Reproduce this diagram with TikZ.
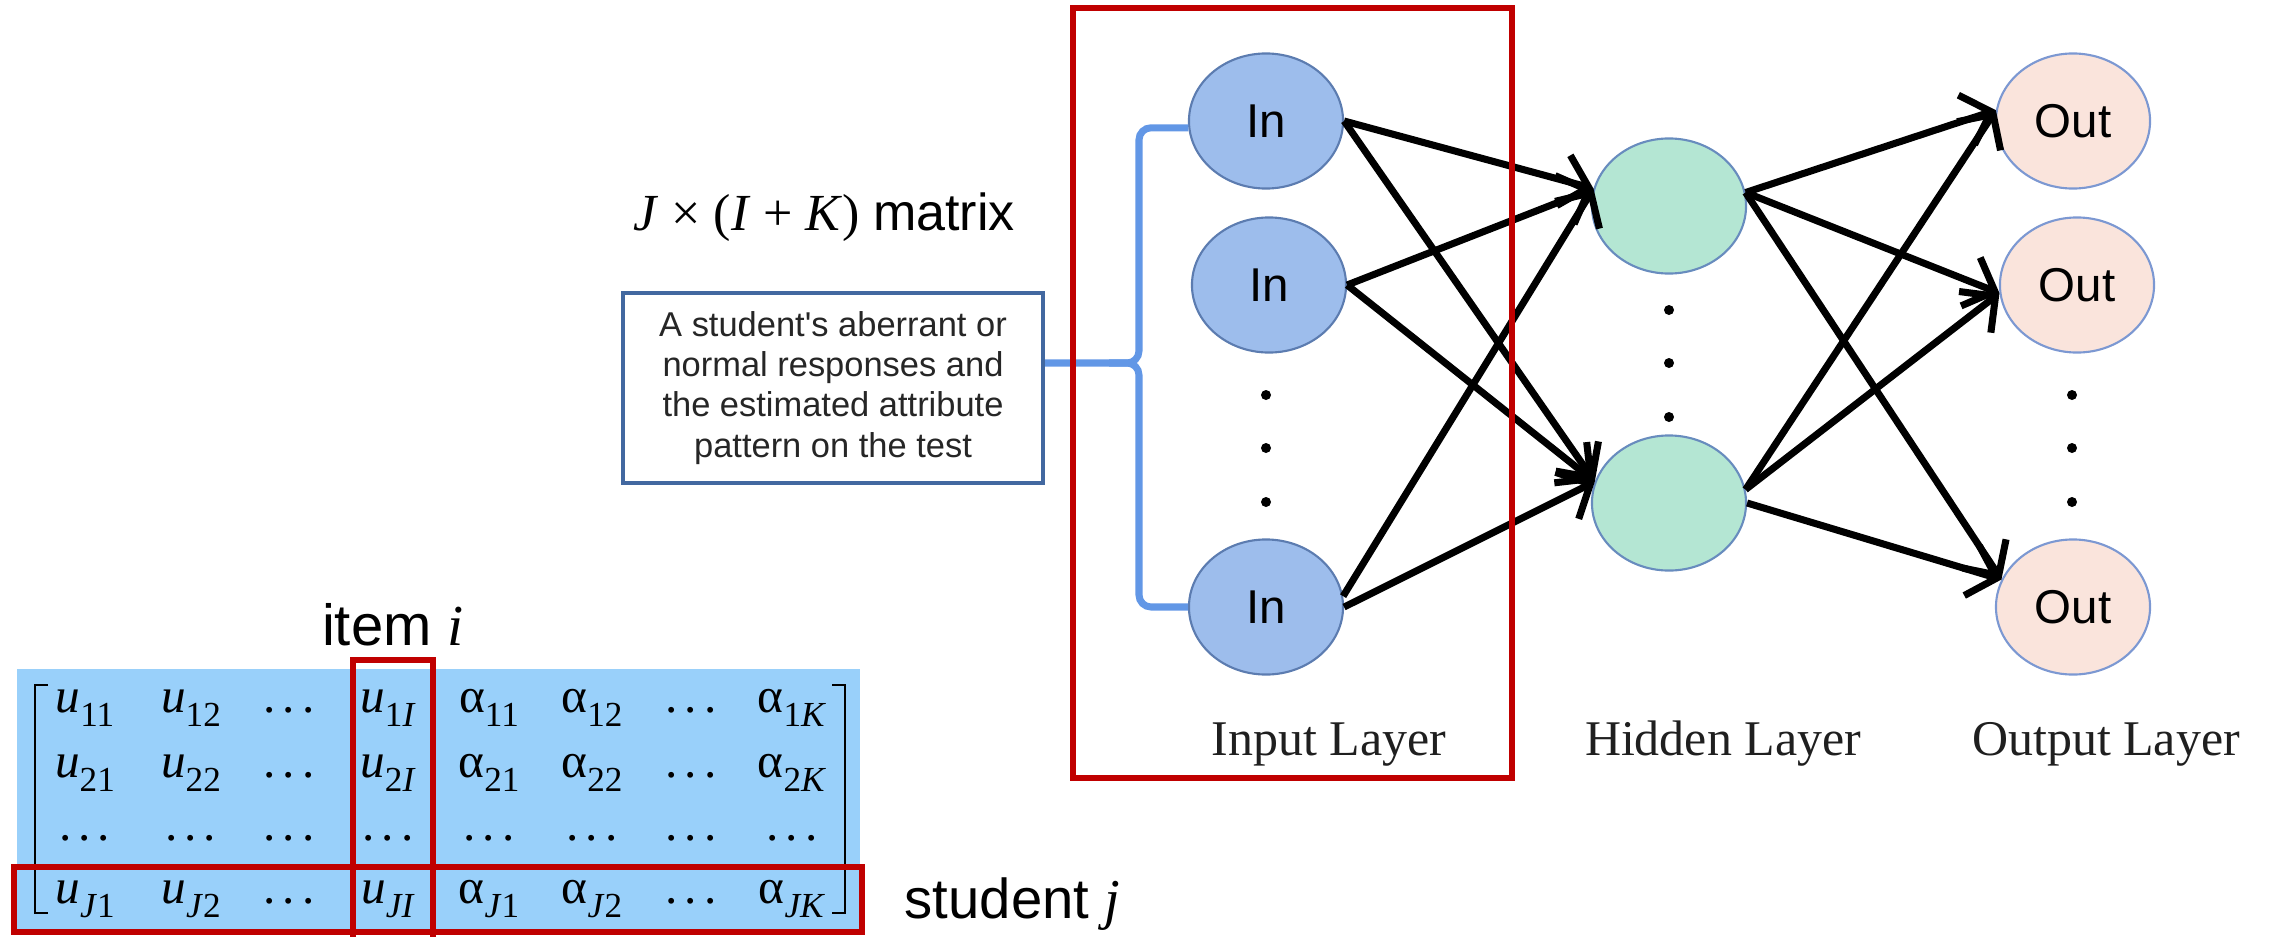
\documentclass[tikz,border=0pt]{standalone}
\usepackage{fontspec}
\setmainfont{Liberation Serif}
\newfontfamily\arialfont{Liberation Sans}
\usetikzlibrary{shapes.geometric,arrows.meta}

\definecolor{matblue}{RGB}{153,208,250}
\definecolor{redbox}{RGB}{192,0,0}
\definecolor{infill}{RGB}{157,189,236}
\definecolor{inborder}{RGB}{92,124,176}
\definecolor{hidfill}{RGB}{180,230,211}
\definecolor{hidborder}{RGB}{104,140,190}
\definecolor{outfill}{RGB}{250,228,220}
\definecolor{outborder}{RGB}{124,152,210}
\definecolor{braceblue}{RGB}{98,151,230}
\definecolor{boxborder}{RGB}{66,104,160}

% matrix entry helpers
\newcommand\subs[1]{\raisebox{-0.3em}{\fontsize{10pt}{11pt}\selectfont #1}}
\newcommand\uent[1]{\textit{u}\subs{#1}}
\newcommand\aent[1]{α\subs{#1}}
\newcommand\dts{.\kern0.14em.\kern0.14em.}

\begin{document}
\begin{tikzpicture}[x=0.01cm,y=-0.01cm,
  ent/.style={anchor=base, inner sep=0pt, font=\fontsize{14pt}{15pt}\selectfont},
  neuron/.style={ellipse, line width=0.6pt, minimum width=1.54cm, minimum height=1.35cm,
                 inner sep=0pt, font=\arialfont\fontsize{13.5pt}{14pt}\selectfont},
  innode/.style={neuron, draw=inborder, fill=infill},
  hidnode/.style={neuron, draw=hidborder, fill=hidfill},
  outnode/.style={neuron, draw=outborder, fill=outfill},
  dotmark/.style={circle, fill=black, inner sep=0pt, minimum size=0.1cm},
  conn/.style={line width=2pt, -{Straight Barb[length=0.26cm,width=0.52cm]}},
  layerlabel/.style={anchor=base, inner sep=0pt, font=\fontsize{14.2pt}{16pt}\selectfont, text=black!88},
  redline/.style={draw=redbox, line width=1.45pt},
  bracket/.style={line width=0.75pt},
  bracepath/.style={draw=braceblue, line width=2pt, rounded corners=0.12cm},
]
\useasboundingbox (0,0) rectangle (2269,936);

% ---------- data matrix ----------
\fill[matblue] (17,669) rectangle (860,930);

\foreach \x/\t [count=\c] in {85/\uent{11},191/\uent{12},289/\dts,388/\uent{1\textit{I}},
    489/\aent{11},592/\aent{12},691/\dts,792/\aent{1\textit{K}}}
  \node[ent] (m1-\c) at (\x,712) {\t};
\foreach \x/\t [count=\c] in {85/\uent{21},191/\uent{22},289/\dts,388/\uent{2\textit{I}},
    489/\aent{21},592/\aent{22},691/\dts,792/\aent{2\textit{K}}}
  \node[ent] (m2-\c) at (\x,777) {\t};
\foreach \x [count=\c] in {85,191,289,388,489,592,691,792}
  \node[ent] (m3-\c) at (\x,840) {\dts};
\foreach \x/\t [count=\c] in {85/\uent{\textit{J}1},191/\uent{\textit{J}2},289/\dts,388/\uent{\textit{JI}},
    489/\aent{\textit{J}1},592/\aent{\textit{J}2},691/\dts,792/\aent{\textit{JK}}}
  \node[ent] (m4-\c) at (\x,903) {\t};

% brackets
\draw[bracket] (48,685) -- (35,685) -- (35,913) -- (48,913);
\draw[bracket] (832,685) -- (845,685) -- (845,913) -- (832,913);

% highlighted column and row
\draw[redline] (353,945) -- (353,660) -- (433,660) -- (433,945);
\draw[redline] (14,867) rectangle (862,932);

\node[anchor=base, inner sep=0pt, font=\arialfont\fontsize{16.5pt}{18pt}\selectfont]
  (itemlbl) at (393,645) {item {\rmfamily\itshape i}};
\node[anchor=base west, inner sep=0pt, font=\arialfont\fontsize{16pt}{18pt}\selectfont]
  (studlbl) at (904,918) {student {\rmfamily\itshape j}};

% ---------- input description ----------
\node[anchor=base, inner sep=0pt, font=\fontsize{14.8pt}{16pt}\selectfont]
  (dimlbl) at (824,230) {\textit{J} × (\textit{I} + \textit{K}) {\arialfont matrix}};

\node[draw=boxborder, line width=1.2pt, minimum width=4.2cm, minimum height=1.9cm,
      align=center, inner sep=0pt, text=black!85,
      font=\arialfont\fontsize{9.8pt}{11.4pt}\selectfont] (box) at (833,388)
  {A student's aberrant or\\normal responses and\\the estimated attribute\\pattern on the test};

% ---------- network ----------
\node[innode] (in1) at (1266,121) {In};
\node[innode] (in2) at (1269,285) {In};
\node[innode] (in3) at (1266,607) {In};
\node[hidnode] (h1) at (1669,206) {};
\node[hidnode] (h2) at (1669,503) {};
\node[outnode] (out1) at (2073,121) {Out};
\node[outnode] (out2) at (2077,285) {Out};
\node[outnode] (out3) at (2073,607) {Out};

\foreach \y [count=\k] in {395,448,502} {
  \node[dotmark] (din\k) at (1266,\y) {};
  \node[dotmark] (dout\k) at (2072,\y) {};
}
\foreach \y [count=\k] in {310,363,417}
  \node[dotmark] (dhid\k) at (1669,\y) {};

% brace gathering the inputs
\coordinate (bt) at (1139,363);
\draw[bracepath] (in1.185) -| (bt) -- (bt -| box.east);
\draw[bracepath] (in3.west) -| (bt) -- ++(-30,0);

% connections
\foreach \s in {in1.east,in2.east,in3.8}
  \draw[conn] (\s) -- (h1.167);
\foreach \s in {in1.east,in2.east,in3.east}
  \draw[conn] (\s) -- (h2.164);
\foreach \s in {h1.10,h2.10}{
  \draw[conn] (\s) -- (out1.172);
  \draw[conn] (\s) -- (out2.186);
}
\draw[conn] (h1.10) -- (out3.159);
\draw[conn] (h2.east) -- (out3.159);

% layer captions
\node[layerlabel] (linput) at (1329,755) {Input Layer};
\node[layerlabel] (lhidden) at (1723,755) {Hidden Layer};
\node[layerlabel] (loutput) at (2106,755) {Output Layer};

% highlighted input layer
\draw[redline] (1073,8) rectangle (1512,778);
\end{tikzpicture}
\end{document}
